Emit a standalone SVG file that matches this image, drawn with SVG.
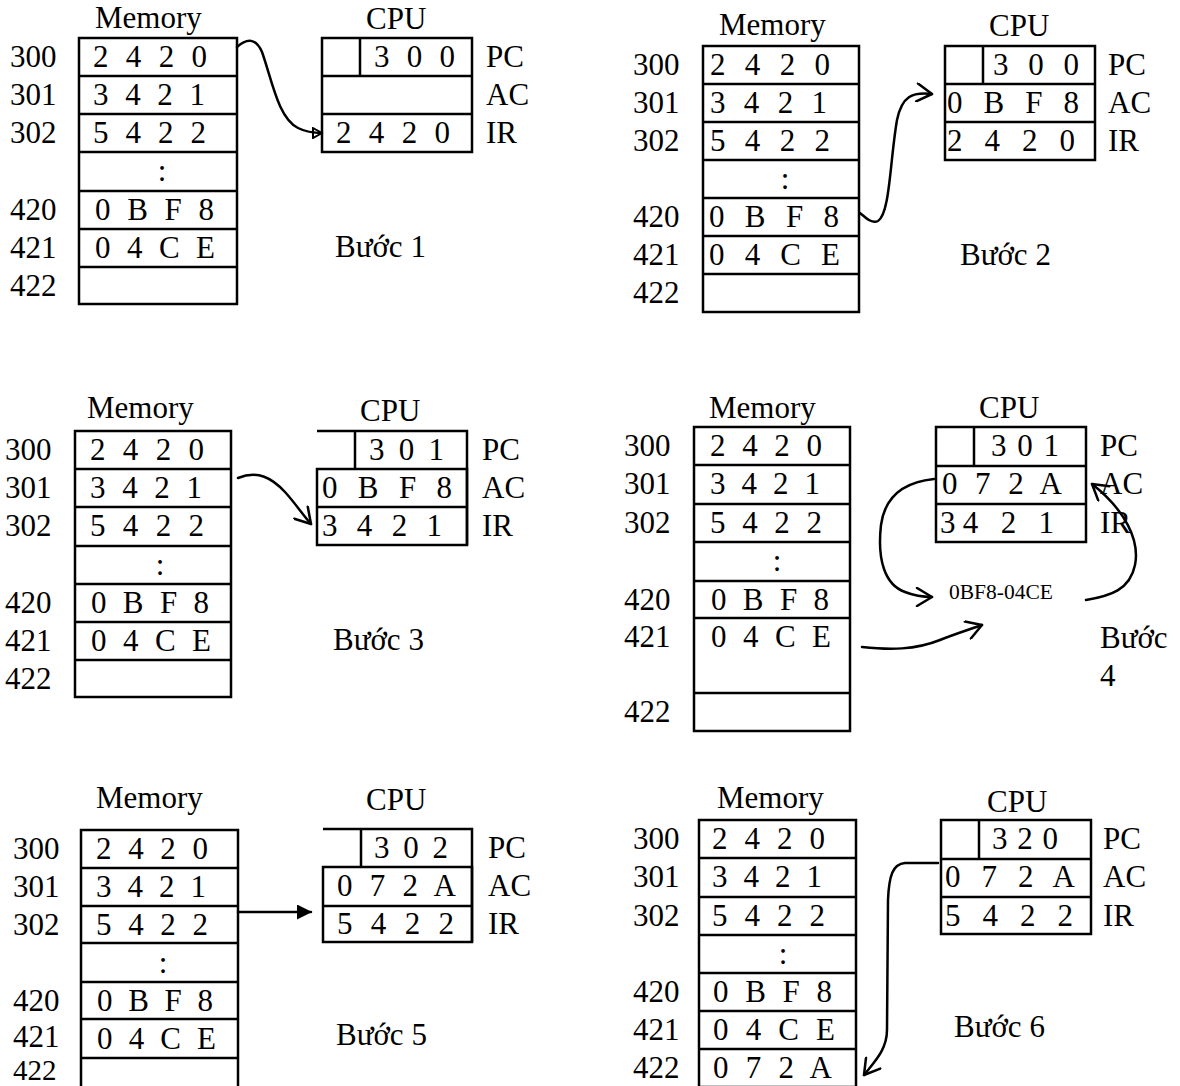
<svg xmlns="http://www.w3.org/2000/svg" width="1180" height="1086" viewBox="0 0 1180 1086">
<style>
text{font-family:"Liberation Serif","Times New Roman",serif;font-size:31px;fill:#000}
.sm{font-size:20px}
.b{fill:none;stroke:#000;stroke-width:2.5}
.c{fill:none;stroke:#000;stroke-width:2.5;stroke-linecap:round}
</style>
<defs>
<marker id="open" markerUnits="userSpaceOnUse" viewBox="0 0 20 20" refX="18" refY="10" markerWidth="20" markerHeight="20" orient="auto"><path d="M3,1 L18,10 L3,19" fill="none" stroke="#000" stroke-width="2.5" stroke-linecap="round" stroke-linejoin="round"/></marker>
<marker id="small" markerUnits="userSpaceOnUse" viewBox="0 0 12 12" refX="11" refY="6" markerWidth="12" markerHeight="12" orient="auto"><path d="M2,1 L11,6 L2,11 Z" fill="none" stroke="#000" stroke-width="2"/></marker>
<marker id="fill" markerUnits="userSpaceOnUse" viewBox="0 0 15 15" refX="14" refY="7.5" markerWidth="15" markerHeight="15" orient="auto"><path d="M0,0 L15,7.5 L0,15 Z" fill="#000"/></marker>
</defs>

<!-- Step 1 -->
<g id="mem1">
<text x="95" y="28">Memory</text>
<rect class="b" x="79" y="38" width="158" height="266"/>
<path class="b" d="M79,76H237M79,114H237M79,152H237M79,191H237M79,229H237M79,267H237"/>
<text x="10" y="67">300</text><text x="10" y="105">301</text><text x="10" y="143">302</text><text x="10" y="220">420</text><text x="10" y="258">421</text><text x="10" y="296">422</text>
<text x="93" y="67" textLength="114" lengthAdjust="spacing">2 4 2 0</text>
<text x="93" y="105" textLength="112" lengthAdjust="spacing">3 4 2 1</text>
<text x="93" y="143" textLength="113" lengthAdjust="spacing">5 4 2 2</text>
<text x="162" y="181" text-anchor="middle">:</text>
<text x="95" y="220" textLength="119" lengthAdjust="spacing">0 B F 8</text>
<text x="95" y="258" textLength="120" lengthAdjust="spacing">0 4 C E</text>
</g>
<g id="cpu1">
<text x="366" y="29">CPU</text>
<rect class="b" x="322" y="38" width="150" height="114"/>
<path class="b" d="M322,76H472M322,114H472M360,38V76"/>
<text x="374" y="67" textLength="81" lengthAdjust="spacing">3 0 0</text>
<text x="336" y="143" textLength="114" lengthAdjust="spacing">2 4 2 0</text>
<text x="486" y="67">PC</text><text x="486" y="105">AC</text><text x="486" y="143">IR</text>
</g>
<g id="step1"><text x="335" y="257">Bước 1</text></g>

<!-- Step 2 -->
<g id="mem2">
<text x="719" y="35">Memory</text>
<rect class="b" x="703" y="46" width="156" height="266"/>
<path class="b" d="M703,84H859M703,122H859M703,160H859M703,198H859M703,236H859M703,274H859"/>
<text x="633" y="75">300</text><text x="633" y="113">301</text><text x="633" y="151">302</text><text x="633" y="227">420</text><text x="633" y="265">421</text><text x="633" y="303">422</text>
<text x="710" y="75" textLength="120" lengthAdjust="spacing">2 4 2 0</text>
<text x="710" y="113" textLength="117" lengthAdjust="spacing">3 4 2 1</text>
<text x="710" y="151" textLength="120" lengthAdjust="spacing">5 4 2 2</text>
<text x="785" y="189" text-anchor="middle">:</text>
<text x="709" y="227" textLength="130" lengthAdjust="spacing">0 B F 8</text>
<text x="709" y="265" textLength="131" lengthAdjust="spacing">0 4 C E</text>
</g>
<g id="cpu2">
<text x="989" y="36">CPU</text>
<rect class="b" x="945" y="46" width="150" height="114"/>
<path class="b" d="M945,84H1095M945,122H1095M983,46V84"/>
<text x="993" y="75" textLength="86" lengthAdjust="spacing">3 0 0</text>
<text x="947" y="113" textLength="132" lengthAdjust="spacing">0 B F 8</text>
<text x="947" y="151" textLength="128" lengthAdjust="spacing">2 4 2 0</text>
<text x="1108" y="75">PC</text><text x="1108" y="113">AC</text><text x="1108" y="151">IR</text>
</g>
<g id="step2"><text x="960" y="265">Bước 2</text></g>

<!-- Step 3 -->
<g id="mem3">
<text x="87" y="418">Memory</text>
<rect class="b" x="75" y="431" width="156" height="266"/>
<path class="b" d="M75,469H231M75,507H231M75,546H231M75,584H231M75,622H231M75,660H231"/>
<text x="5" y="460">300</text><text x="5" y="498">301</text><text x="5" y="536">302</text><text x="5" y="613">420</text><text x="5" y="651">421</text><text x="5" y="689">422</text>
<text x="90" y="460" textLength="114" lengthAdjust="spacing">2 4 2 0</text>
<text x="90" y="498" textLength="112" lengthAdjust="spacing">3 4 2 1</text>
<text x="90" y="536" textLength="114" lengthAdjust="spacing">5 4 2 2</text>
<text x="160" y="575" text-anchor="middle">:</text>
<text x="91" y="613" textLength="118" lengthAdjust="spacing">0 B F 8</text>
<text x="91" y="651" textLength="120" lengthAdjust="spacing">0 4 C E</text>
</g>
<g id="cpu3">
<text x="360" y="421">CPU</text>
<path class="b" d="M317,431H467V545M355,431V469"/>
<rect class="b" x="317" y="469" width="150" height="76"/>
<path class="b" d="M317,507H467"/>
<text x="369" y="460" textLength="75" lengthAdjust="spacing">3 0 1</text>
<text x="322" y="498" textLength="130" lengthAdjust="spacing">0 B F 8</text>
<text x="322" y="536" textLength="120" lengthAdjust="spacing">3 4 2 1</text>
<text x="482" y="460">PC</text><text x="482" y="498">AC</text><text x="482" y="536">IR</text>
</g>
<g id="step3"><text x="333" y="650">Bước 3</text></g>

<!-- Step 4 -->
<g id="mem4">
<text x="709" y="418">Memory</text>
<rect class="b" x="694" y="427" width="156" height="304"/>
<path class="b" d="M694,465H850M694,504H850M694,542H850M694,581H850M694,618H850M694,693H850"/>
<text x="624" y="456">300</text><text x="624" y="494">301</text><text x="624" y="533">302</text><text x="624" y="610">420</text><text x="624" y="647">421</text><text x="624" y="722">422</text>
<text x="710" y="456" textLength="112" lengthAdjust="spacing">2 4 2 0</text>
<text x="710" y="494" textLength="110" lengthAdjust="spacing">3 4 2 1</text>
<text x="710" y="533" textLength="112" lengthAdjust="spacing">5 4 2 2</text>
<text x="777" y="571" text-anchor="middle">:</text>
<text x="711" y="610" textLength="118" lengthAdjust="spacing">0 B F 8</text>
<text x="711" y="647" textLength="120" lengthAdjust="spacing">0 4 C E</text>
</g>
<g id="cpu4">
<text x="979" y="418">CPU</text>
<rect class="b" x="936" y="427" width="150" height="115"/>
<path class="b" d="M936,466H1086M936,504H1086M974,427V466"/>
<text x="991" y="456" textLength="68" lengthAdjust="spacing">3 0 1</text>
<text x="942" y="494" textLength="120" lengthAdjust="spacing">0 7 2 A</text>
<text x="940" y="533" textLength="114" lengthAdjust="spacing">34 2 1</text>
<text x="1100" y="456">PC</text><text x="1100" y="494">AC</text><text x="1100" y="533">IR</text>
</g>
<g id="alu4"><text class="sm" x="949" y="599" textLength="104" lengthAdjust="spacingAndGlyphs">0BF8-04CE</text></g>
<g id="step4"><text x="1100" y="648">Bước</text><text x="1100" y="686">4</text></g>

<!-- Step 5 -->
<g id="mem5">
<text x="96" y="808">Memory</text>
<rect class="b" x="81" y="830" width="157" height="266"/>
<path class="b" d="M81,868H238M81,906H238M81,943H238M81,982H238M81,1019H238M81,1058H238"/>
<text x="13" y="859">300</text><text x="13" y="897">301</text><text x="13" y="935">302</text><text x="13" y="1011">420</text><text x="13" y="1047">421</text><text x="13" y="1079.5" style="font-size:29px">422</text>
<text x="96" y="859" textLength="112" lengthAdjust="spacing">2 4 2 0</text>
<text x="96" y="897" textLength="110" lengthAdjust="spacing">3 4 2 1</text>
<text x="96" y="935" textLength="112" lengthAdjust="spacing">5 4 2 2</text>
<text x="163" y="973" text-anchor="middle">:</text>
<text x="97" y="1011" textLength="116" lengthAdjust="spacing">0 B F 8</text>
<text x="97" y="1049" textLength="119" lengthAdjust="spacing">0 4 C E</text>
</g>
<g id="cpu5">
<text x="366" y="810">CPU</text>
<path class="b" d="M323,829H472V942M361,829V867"/>
<rect class="b" x="323" y="867" width="149" height="75"/>
<path class="b" d="M323,906H472"/>
<text x="374" y="858" textLength="74" lengthAdjust="spacing">3 0 2</text>
<text x="337" y="896" textLength="119" lengthAdjust="spacing">0 7 2 A</text>
<text x="337" y="934" textLength="117" lengthAdjust="spacing">5 4 2 2</text>
<text x="488" y="858">PC</text><text x="488" y="896">AC</text><text x="488" y="934">IR</text>
</g>
<g id="step5"><text x="336" y="1045">Bước 5</text></g>

<!-- Step 6 -->
<g id="mem6">
<text x="717" y="808">Memory</text>
<rect class="b" x="699" y="820" width="157" height="267"/>
<path class="b" d="M699,858H856M699,897H856M699,935H856M699,973H856M699,1011H856M699,1049H856"/>
<text x="633" y="849">300</text><text x="633" y="887">301</text><text x="633" y="926">302</text><text x="633" y="1002">420</text><text x="633" y="1040">421</text><text x="633" y="1078">422</text>
<text x="712" y="849" textLength="113" lengthAdjust="spacing">2 4 2 0</text>
<text x="712" y="887" textLength="110" lengthAdjust="spacing">3 4 2 1</text>
<text x="712" y="926" textLength="113" lengthAdjust="spacing">5 4 2 2</text>
<text x="783" y="964" text-anchor="middle">:</text>
<text x="713" y="1002" textLength="119" lengthAdjust="spacing">0 B F 8</text>
<text x="713" y="1040" textLength="122" lengthAdjust="spacing">0 4 C E</text>
<text x="713" y="1078" textLength="119" lengthAdjust="spacing">0 7 2 A</text>
</g>
<g id="cpu6">
<text x="987" y="812">CPU</text>
<rect class="b" x="941" y="820" width="150" height="114"/>
<path class="b" d="M941,859H1091M941,897H1091M979,820V859"/>
<text x="992" y="849" textLength="66" lengthAdjust="spacing">3 2 0</text>
<text x="945" y="887" textLength="130" lengthAdjust="spacing">0 7 2 A</text>
<text x="945" y="926" textLength="128" lengthAdjust="spacing">5 4 2 2</text>
<text x="1103" y="849">PC</text><text x="1103" y="887">AC</text><text x="1103" y="926">IR</text>
</g>
<g id="step6"><text x="954" y="1037">Bước 6</text></g>

<g id="connectors">
<path class="c" marker-end="url(#small)" d="M237,47 C247,38 256,38 262,52 C272,80 278,118 298,128 C306,132 314,133 322,133"/>
<path class="c" marker-end="url(#open)" d="M860,213 C866,218 872,224 878,221 C890,214 890,160 897,120 C902,96 912,92 932,94"/>
<path class="c" marker-end="url(#open)" d="M238,478 C258,470 272,478 285,492 C295,503 303,515 311,524"/>
<path class="c" marker-end="url(#open)" d="M934,479 C905,482 885,495 881,525 C877,560 885,585 905,592 C915,596 924,597 932,597"/>
<path class="c" marker-end="url(#open)" d="M1086,600 C1110,596 1130,590 1135,565 C1140,540 1125,510 1092,484"/>
<path class="c" marker-end="url(#open)" d="M862,647 C890,650 915,650 940,640 C955,634 968,630 982,625"/>
<path class="c" marker-end="url(#fill)" d="M238,912 L311,912"/>
<path class="c" marker-end="url(#open)" d="M938,863 L905,863 C893,864 889,875 888,900 L887,1030 C887,1050 874,1062 864,1075"/>
</g>
</svg>
